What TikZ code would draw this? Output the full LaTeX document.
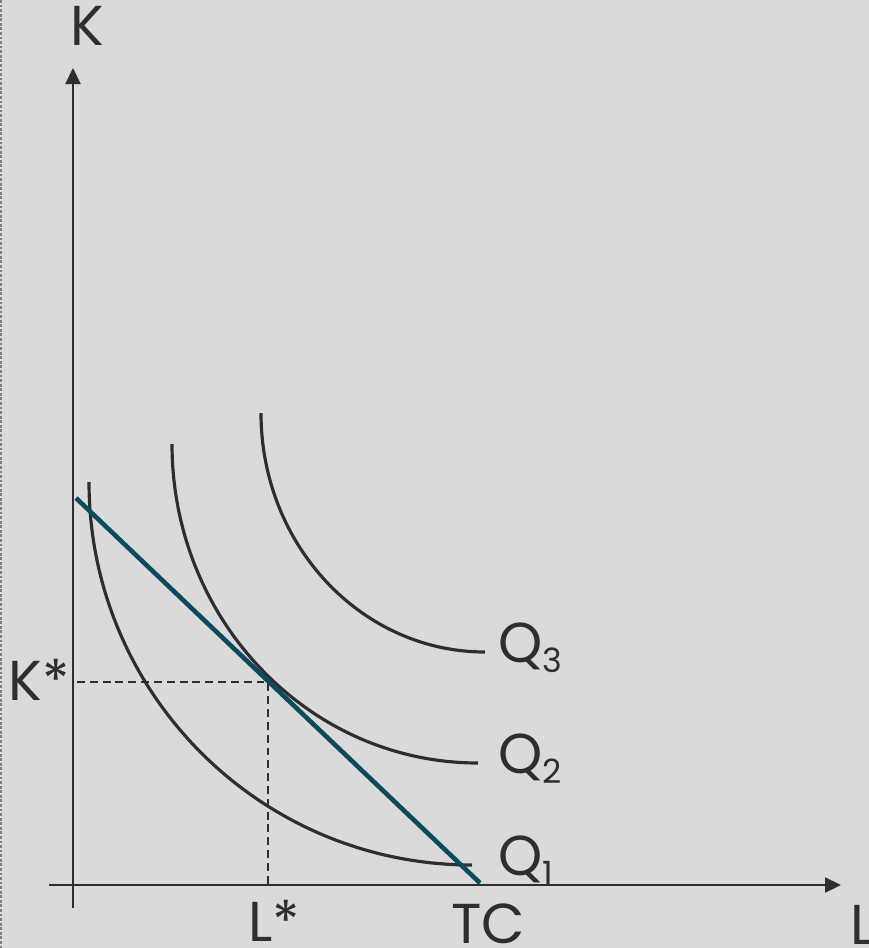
\documentclass[tikz,border=0pt]{standalone}
\usepackage{fontspec}
\setmainfont{Poppins}
\usepackage{tikz}
\usetikzlibrary{arrows.meta}
\definecolor{bg}{HTML}{DADADA}
\definecolor{ink}{HTML}{2E2E2E}
\definecolor{budget}{RGB}{12,74,94}
\newcommand{\lbl}{\fontsize{32}{38}\selectfont}
\newcommand{\sub}[1]{\raisebox{-6pt}{\fontsize{19}{20}\selectfont #1}}

\begin{document}
\begin{tikzpicture}[x=0.02cm, y=-0.02cm,
    axis/.style={color=ink, line width=1.3pt, -{Triangle[length=0.32cm,width=0.3cm]}},
    isoquant/.style={color=ink, line width=1.8pt},
    guide/.style={color=ink, line width=1.5pt, dash pattern=on 4.5pt off 2.8pt},
    txt/.style={text=ink, inner sep=0pt, anchor=base west, font=\lbl}]
        \fill[bg] (0,0) rectangle (869,948);
        \useasboundingbox (0,0) rectangle (869,948);
        \draw[color=gray, line width=1.4pt, dash pattern=on 1.6pt off 1pt] (1,0) -- (1,948);

        % axes
        \coordinate (yb) at (73,908); \coordinate (yt) at (73,68);
        \coordinate (xl) at (49,885); \coordinate (xr) at (841,885);
        \draw[axis] (yb) -- (yt); \draw[axis] (xl) -- (xr);

        % isoquants
        \coordinate (q1s) at (89,482); \coordinate (q2s) at (172,444); \coordinate (q3s) at (261,413);
        \draw[isoquant] (q1s) arc[start angle=180, end angle=90, x radius=383, y radius=383];
        \draw[isoquant] (q2s) arc[start angle=180, end angle=90, x radius=306, y radius=319];
        \draw[isoquant] (q3s) arc[start angle=180, end angle=90, x radius=224, y radius=239];

        % budget line and optimum
        \coordinate (bt) at (76,498); \coordinate (bb) at (480,883);
        \coordinate (ks) at (77,682); \coordinate (opt) at (268,682); \coordinate (ls) at (268,885);
        \draw[guide] (ks) -- (opt) -- (ls);
        \draw[color=budget, line width=2.6pt] (bt) -- (bb);

        % labels
        \node[txt] (K) at (70,45) {K};
        \node[txt] (Kstar) at (8,700) {K*};
        \node[txt] (Lstar) at (248,941) {L*};
        \node[txt] (TC) at (451,943) {TC};
        \node[txt] (L) at (850,944) {L};
        \node[txt] (Q3) at (498,662) {Q\sub{3}};
        \node[txt] (Q2) at (498,773) {Q\sub{2}};
        \node[txt] (Q1) at (498,875) {Q\sub{1}};
    \end{tikzpicture}
\end{document}
